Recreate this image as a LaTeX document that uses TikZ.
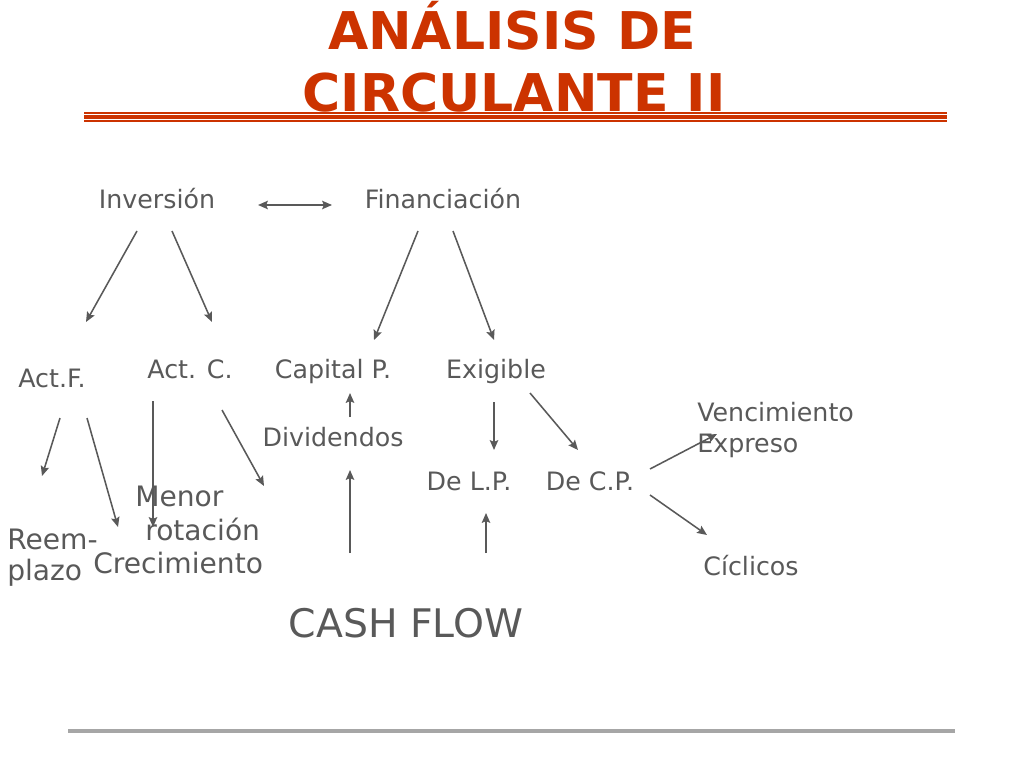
\documentclass[tikz,border=0pt]{standalone}
\usepackage{fontspec}
\setmainfont{DejaVu Sans}
\usepackage{tikz}
\usetikzlibrary{arrows.meta}
\definecolor{titleColor}{RGB}{204,51,0}
\definecolor{textColor}{RGB}{89,89,89}
\definecolor{ruleColor}{RGB}{166,166,166}
\tikzstyle{slide} = [x = 0.025cm, y = -0.025cm]
\tikzstyle{titleText} = [color=titleColor, font=\fontsize{37}{44}\selectfont\bfseries, anchor=base, inner sep=0]
\tikzstyle{itemText} = [color=textColor, font=\fontsize{18}{22}\selectfont, anchor=base, inner sep=0]
\tikzstyle{bigText} = [color=textColor, font=\fontsize{20}{24}\selectfont, anchor=base west, inner sep=0]
\tikzstyle{cashText} = [color=textColor, font=\fontsize{28}{34}\selectfont, anchor=base, inner sep=0]
\tikzstyle{flowArrow} = [color=textColor, line width=1.1pt, -{Stealth[length=7pt, width=6pt, inset=1.2pt]}]
\tikzstyle{bothArrow} = [color=textColor, line width=1.1pt, {Stealth[length=7pt, width=6pt, inset=1.2pt]}-{Stealth[length=7pt, width=6pt, inset=1.2pt]}]
\tikzstyle{titleRule} = [color=titleColor]

\begin{document}
\begin{tikzpicture}[slide]
  \useasboundingbox (0,0) rectangle (1024,768);
  % title
  \node [titleText] (titleOne) at (512,50) {ANÁLISIS DE};
  \node [titleText] (titleTwo) at (514,112) {CIRCULANTE II};
  \draw [titleRule, line width=1.4pt] (84,113) -- (947,113);
  \draw [titleRule, line width=2.2pt] (84,117) -- (947,117);
  \draw [titleRule, line width=1.4pt] (84,121) -- (947,121);

  % first level
  \node [itemText] (inversion) at (157,208) {Inversión};
  \node [itemText] (financiacion) at (443,208) {Financiación};
  \coordinate (linkLeft) at (258,205);
  \coordinate (linkRight) at (332,205);
  \draw [bothArrow] (linkLeft) -- (linkRight);

  % second level
  \node [itemText] (actF) at (52,387) {Act.F.};
  \node [itemText] (actC) at (190,378) {Act. C.};
  \node [itemText] (capitalP) at (333,378) {Capital P.};
  \node [itemText] (exigible) at (496,378) {Exigible};
  \node [itemText] (dividendos) at (333,446) {Dividendos};
  \node [itemText] (deLP) at (469,490) {De L.P.};
  \node [itemText] (deCP) at (590,490) {De C.P.};
  \node [itemText, anchor=base west] (vencimiento) at (697,421) {Vencimiento};
  \node [itemText, anchor=base west] (expreso) at (697,452) {Expreso};
  \node [itemText] (ciclicos) at (751,575) {Cíclicos};

  % bottom texts
  \node [bigText] (menor) at (135,506) {Menor};
  \node [bigText] (rotacion) at (145,540) {rotación};
  \node [bigText] (crecimiento) at (93,573) {Crecimiento};
  \node [bigText] (reem) at (7,549) {Reem-};
  \node [bigText] (plazo) at (7,580) {plazo};
  \node [cashText] (cashFlow) at (406,637) {CASH FLOW};

  % arrow ends
  \coordinate (invOne) at (137,231);
  \coordinate (invOneEnd) at (86,322);
  \coordinate (invTwo) at (172,231);
  \coordinate (invTwoEnd) at (212,322);
  \coordinate (finOne) at (418,231);
  \coordinate (finOneEnd) at (374,340);
  \coordinate (finTwo) at (453,231);
  \coordinate (finTwoEnd) at (494,340);
  \coordinate (actFOne) at (60,418);
  \coordinate (actFOneEnd) at (42,476);
  \coordinate (actFTwo) at (87,418);
  \coordinate (actFTwoEnd) at (118,527);
  \coordinate (actCOne) at (153,401);
  \coordinate (actCOneEnd) at (153,527);
  \coordinate (actCTwo) at (222,410);
  \coordinate (actCTwoEnd) at (264,486);
  \coordinate (divOne) at (350,417);
  \coordinate (divOneEnd) at (350,393);
  \coordinate (cashOne) at (350,553);
  \coordinate (cashOneEnd) at (350,470);
  \coordinate (exiOne) at (494,402);
  \coordinate (exiOneEnd) at (494,450);
  \coordinate (exiTwo) at (530,393);
  \coordinate (exiTwoEnd) at (578,450);
  \coordinate (cashTwo) at (486,553);
  \coordinate (cashTwoEnd) at (486,513);
  \coordinate (cpOne) at (650,469);
  \coordinate (cpOneEnd) at (717,434);
  \coordinate (cpTwo) at (650,495);
  \coordinate (cpTwoEnd) at (707,535);

  \draw [flowArrow] (invOne) -- (invOneEnd);
  \draw [flowArrow] (invTwo) -- (invTwoEnd);
  \draw [flowArrow] (finOne) -- (finOneEnd);
  \draw [flowArrow] (finTwo) -- (finTwoEnd);
  \draw [flowArrow] (actFOne) -- (actFOneEnd);
  \draw [flowArrow] (actFTwo) -- (actFTwoEnd);
  \draw [flowArrow] (actCOne) -- (actCOneEnd);
  \draw [flowArrow] (actCTwo) -- (actCTwoEnd);
  \draw [flowArrow] (divOne) -- (divOneEnd);
  \draw [flowArrow] (cashOne) -- (cashOneEnd);
  \draw [flowArrow] (exiOne) -- (exiOneEnd);
  \draw [flowArrow] (exiTwo) -- (exiTwoEnd);
  \draw [flowArrow] (cashTwo) -- (cashTwoEnd);
  \draw [flowArrow] (cpOne) -- (cpOneEnd);
  \draw [flowArrow] (cpTwo) -- (cpTwoEnd);

  % footer rule
  \draw [color=ruleColor, line width=2.8pt] (68,731) -- (955,731);
\end{tikzpicture}
\end{document}
